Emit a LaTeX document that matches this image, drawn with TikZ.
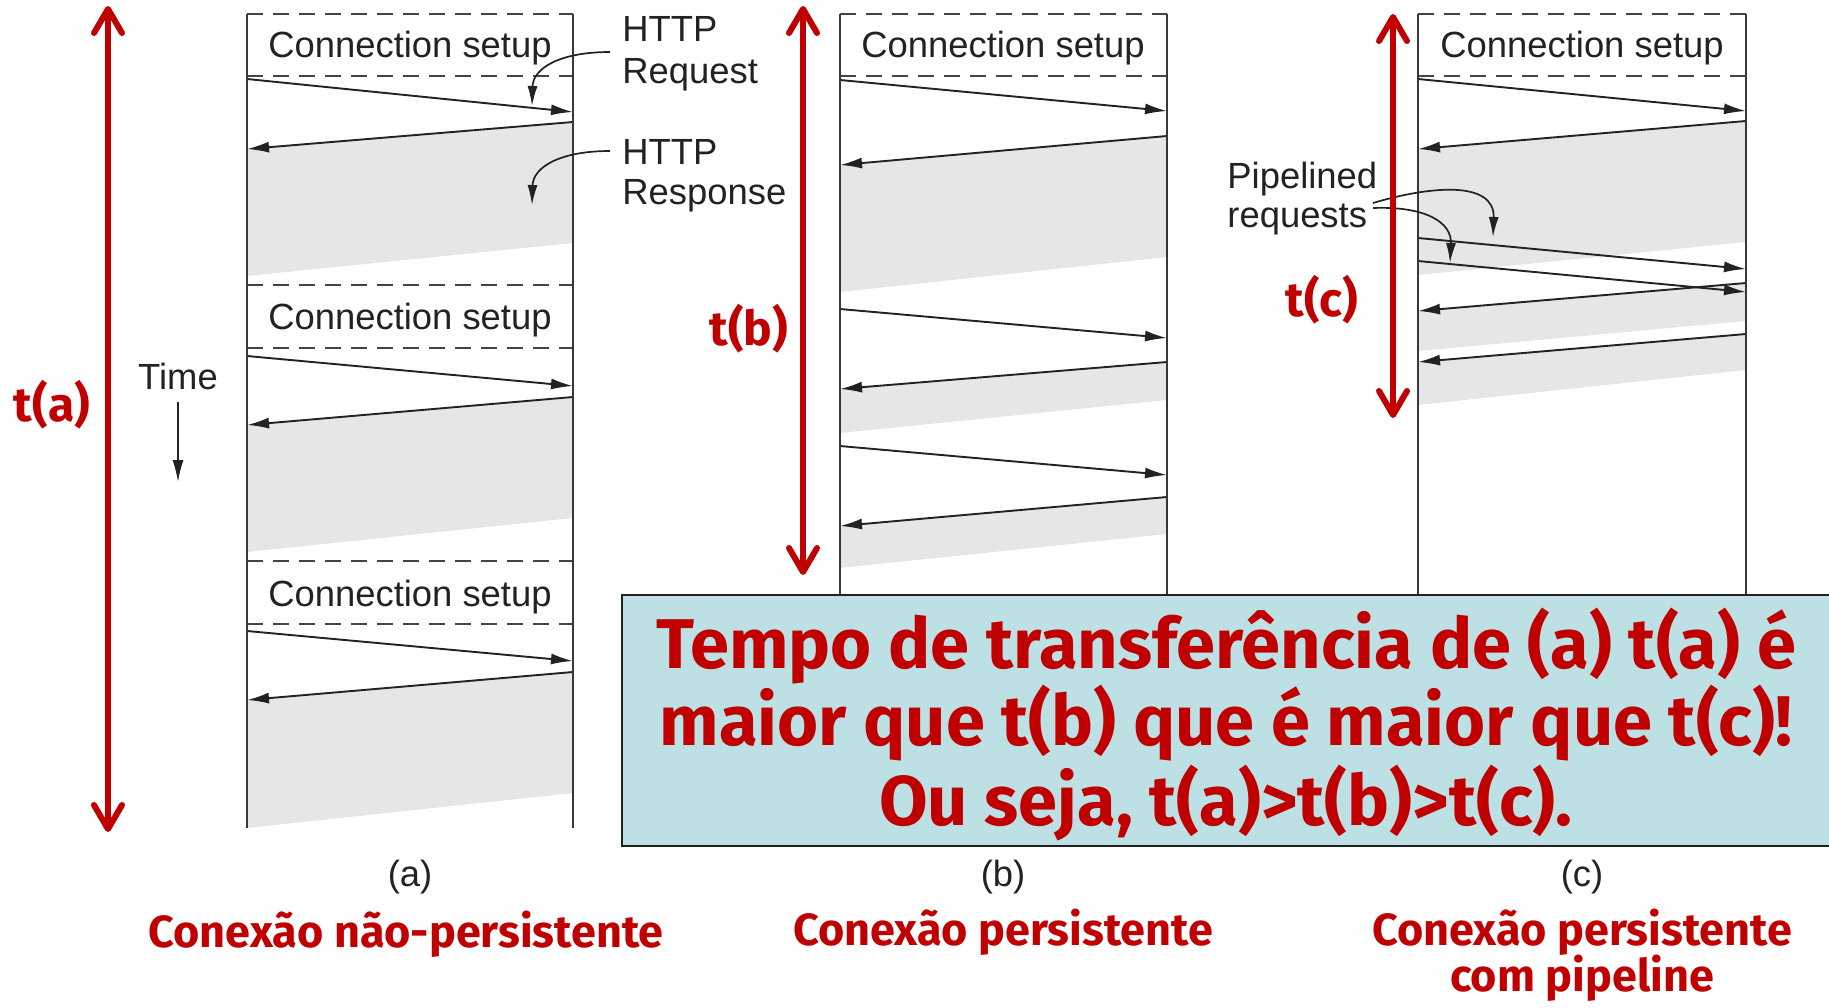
\documentclass[tikz,border=0pt]{standalone}
\usepackage{fontspec}
\setmainfont{Liberation Sans}
\newfontfamily\redfont{Fira Sans}
\usetikzlibrary{arrows.meta}
\definecolor{tred}{HTML}{C00000}
\definecolor{bandgray}{HTML}{E6E6E6}
\definecolor{boxteal}{HTML}{BCE0E3}
\definecolor{dashgray}{HTML}{444444}
\definecolor{inkgray}{HTML}{222222}
\begin{document}
\begin{tikzpicture}[x=0.5pt,y=-0.5pt,
  timeline/.style={draw=inkgray!90, line width=0.75pt},
  setupline/.style={draw=dashgray, line width=1.1pt, dash pattern=on 8pt off 5pt},
  msg/.style={draw=inkgray, line width=0.95pt, -{Latex[length=11pt,width=5.5pt]}},
  curvearrow/.style={draw=inkgray, line width=0.85pt, -{Latex[length=10pt,width=5pt]}},
  band/.style={fill=bandgray, draw=none},
  setuptext/.style={font=\fontsize{18.2}{21}\selectfont, text=inkgray, inner sep=0pt},
  graytext/.style={font=\fontsize{18.2}{21}\selectfont, text=inkgray, inner sep=0pt},
  redarrow/.style={draw=tred, line width=3pt, {Straight Barb[length=12pt,width=14pt,round]}-{Straight Barb[length=12pt,width=14pt,round]}},
  tlabel/.style={text=tred, font=\redfont\bfseries\fontsize{24}{28}\selectfont, inner sep=0pt},
  redlabel/.style={text=tred, font=\redfont\bfseries\fontsize{22.5}{26}\selectfont, inner sep=0pt},
  boxtext/.style={text=tred, font=\redfont\bfseries\fontsize{35.2}{40}\selectfont, inner sep=0pt},
  summarybox/.style={draw=inkgray, fill=boxteal, line width=1.2pt}
]
\useasboundingbox (0,0) rectangle (1829,1007);

% ---------------- panel (a): non-persistent ----------------
\foreach \n/\T/\B/\ty/\qa/\qb/\ra/\rb/\ga/\gb in
  {1/14/76/48/79/112/122/149/276/243,
   2/285/348/320/356/386/397/425/552/518,
   3/561/624/597/631/661/672/700/828/793}{
  \fill[band] (573,\ra) -- (247,\rb) -- (247,\ga) -- (573,\gb) -- cycle;
  \draw[setupline] (247,\T) -- (573,\T);
  \draw[setupline] (247,\B) -- (573,\B);
  \node[setuptext] (asetup\n) at (410,\ty) {Connection setup};
  \coordinate (aq\n s) at (247,\qa);
  \coordinate (aq\n e) at (573,\qb);
  \coordinate (ar\n s) at (573,\ra);
  \coordinate (ar\n e) at (247,\rb);
  \draw[msg] (aq\n s) -- (aq\n e);
  \draw[msg] (ar\n s) -- (ar\n e);
}
\coordinate (aLtop) at (247,14); \coordinate (aLbot) at (247,828);
\coordinate (aRtop) at (573,14); \coordinate (aRbot) at (573,828);
\draw[timeline] (aLtop) -- (aLbot);
\draw[timeline] (aRtop) -- (aRbot);

% labels HTTP Request / Response
\node[graytext, anchor=base west] (httpA) at (622,41) {HTTP};
\node[graytext, anchor=base west] (reqA) at (622,83) {Request};
\node[graytext, anchor=base west] (httpB) at (622,164) {HTTP};
\node[graytext, anchor=base west] (respB) at (622,204) {Response};
\coordinate (reqcurve) at (610,52);
\coordinate (reqtip) at (532,106);
\coordinate (respcurve) at (610,151);
\coordinate (resptip) at (532,205);
\draw[curvearrow] (reqcurve) .. controls (560,52) and (533,68) .. (reqtip);
\draw[curvearrow] (respcurve) .. controls (560,151) and (533,167) .. (resptip);

% Time
\node[graytext] (timelbl) at (178,376) {Time};
\coordinate (timeS) at (178,402);
\coordinate (timeE) at (178,482);
\draw[msg, line width=0.8pt] (timeS) -- (timeE);

% ---------------- panel (b): persistent ----------------
\foreach \n/\qa/\qb/\ra/\rb/\ga/\gb in
  {1/80/111/136/165/292/257,
   2/309/338/362/389/433/400,
   3/446/475/497/526/568/534}{
  \fill[band] (1167,\ra) -- (840,\rb) -- (840,\ga) -- (1167,\gb) -- cycle;
  \coordinate (bq\n s) at (840,\qa);
  \coordinate (bq\n e) at (1167,\qb);
  \coordinate (br\n s) at (1167,\ra);
  \coordinate (br\n e) at (840,\rb);
  \draw[msg] (bq\n s) -- (bq\n e);
  \draw[msg] (br\n s) -- (br\n e);
}
\draw[setupline] (840,14) -- (1167,14);
\draw[setupline] (840,76) -- (1167,76);
\node[setuptext] (bsetup) at (1003,48) {Connection setup};
\coordinate (bLtop) at (840,14); \coordinate (bLbot) at (840,595);
\coordinate (bRtop) at (1167,14); \coordinate (bRbot) at (1167,595);
\draw[timeline] (bLtop) -- (bLbot);
\draw[timeline] (bRtop) -- (bRbot);

% ---------------- panel (c): pipelined ----------------
\fill[band] (1746,121) -- (1418,149) -- (1418,275) -- (1746,242) -- cycle;
\fill[band] (1746,283) -- (1418,311) -- (1418,351) -- (1746,321) -- cycle;
\fill[band] (1746,334) -- (1418,362) -- (1418,405) -- (1746,370) -- cycle;
\draw[setupline] (1418,14) -- (1746,14);
\draw[setupline] (1418,76) -- (1746,76);
\node[setuptext] (csetup) at (1582,48) {Connection setup};
\coordinate (cq1s) at (1418,79);  \coordinate (cq1e) at (1746,111);
\coordinate (cr1s) at (1746,121); \coordinate (cr1e) at (1418,149);
\coordinate (cq2s) at (1418,238); \coordinate (cq2e) at (1746,269);
\coordinate (cq3s) at (1418,261); \coordinate (cq3e) at (1746,292);
\coordinate (cr2s) at (1746,283); \coordinate (cr2e) at (1418,311);
\coordinate (cr3s) at (1746,334); \coordinate (cr3e) at (1418,362);
\draw[msg] (cq1s) -- (cq1e);
\draw[msg] (cr1s) -- (cr1e);
\draw[msg] (cq2s) -- (cq2e);
\draw[msg] (cq3s) -- (cq3e);
\draw[msg] (cr2s) -- (cr2e);
\draw[msg] (cr3s) -- (cr3e);
\coordinate (cLtop) at (1418,14); \coordinate (cLbot) at (1418,595);
\coordinate (cRtop) at (1746,14); \coordinate (cRbot) at (1746,595);
\draw[timeline] (cLtop) -- (cLbot);
\draw[timeline] (cRtop) -- (cRbot);

\node[graytext, anchor=base west] (pipeA) at (1227,188) {Pipelined};
\node[graytext, anchor=base west] (pipeB) at (1227,227) {requests};
\coordinate (pipeS1) at (1373,203);
\coordinate (pipeS2) at (1373,208);
\coordinate (pipeT1) at (1493,237);
\coordinate (pipeT2) at (1450,263);
\draw[curvearrow] (pipeS1) .. controls (1430,186) and (1495,180) .. (pipeT1);
\draw[curvearrow] (pipeS2) .. controls (1425,206) and (1452,222) .. (pipeT2);

% ---------------- red time arrows ----------------
\coordinate (taTop) at (108,6);   \coordinate (taBot) at (108,832);
\coordinate (tbTop) at (803,6);   \coordinate (tbBot) at (803,575);
\coordinate (tcTop) at (1393,14); \coordinate (tcBot) at (1393,418);
\draw[redarrow] (taTop) -- (taBot);
\draw[redarrow] (tbTop) -- (tbBot);
\draw[redarrow] (tcTop) -- (tcBot);
\node[tlabel] (ta) at (52,405) {t(a)};
\node[tlabel] (tb) at (749,329) {t(b)};
\node[tlabel] (tc) at (1322,300) {t(c)};

% ---------------- summary box ----------------
\draw[summarybox] (622,595) rectangle (1840,846);
\node[boxtext, anchor=base] (sumA) at (1226,668) {Tempo de transferência de (a) t(a) é};
\node[boxtext, anchor=base] (sumB) at (1226,745) {maior que t(b) que é maior que t(c)!};
\node[boxtext, anchor=base] (sumC) at (1226,825) {Ou seja, t(a)>t(b)>t(c).};

% ---------------- captions ----------------
\node[graytext] (capa) at (410,877) {(a)};
\node[graytext] (capb) at (1003,877) {(b)};
\node[graytext] (capc) at (1582,877) {(c)};
\node[redlabel, anchor=base] (nonpers) at (406,947) {Conexão não-persistente};
\node[redlabel, anchor=base] (pers) at (1003,945) {Conexão persistente};
\node[redlabel, anchor=base] (pipe1) at (1582,945) {Conexão persistente};
\node[redlabel, anchor=base] (pipe2) at (1582,991) {com pipeline};
\end{tikzpicture}
\end{document}
